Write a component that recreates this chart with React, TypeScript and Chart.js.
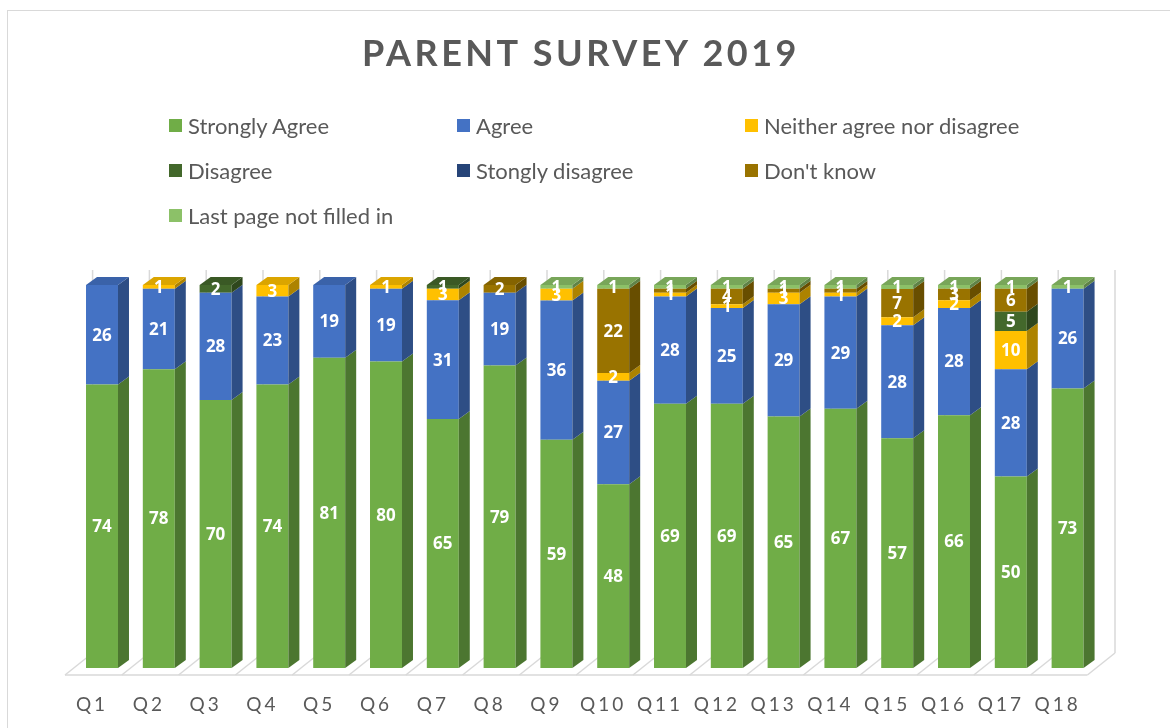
import React, { useEffect, useRef } from 'react';
import { Chart, registerables } from 'chart.js';

Chart.register(...registerables);

const categories = ['Q1', 'Q2', 'Q3', 'Q4', 'Q5', 'Q6', 'Q7', 'Q8', 'Q9', 'Q10', 'Q11', 'Q12', 'Q13', 'Q14', 'Q15', 'Q16', 'Q17', 'Q18'];
const stronglyAgree = [74, 78, 70, 74, 81, 80, 65, 79, 59, 48, 69, 69, 65, 67, 57, 66, 50, 73];
const agree = [26, 21, 28, 23, 19, 19, 31, 19, 36, 27, 28, 25, 29, 29, 28, 28, 28, 26];
const neither = [0, 1, 0, 3, 0, 1, 3, 0, 3, 2, 1, 1, 3, 1, 2, 2, 10, 0];
const disagree = [0, 0, 2, 0, 0, 0, 1, 0, 0, 0, 0, 0, 0, 0, 0, 0, 5, 0];
const stronglyDisagree = [0, 0, 0, 0, 0, 0, 0, 0, 0, 0, 0, 0, 0, 0, 0, 0, 0, 0];
const dontKnow = [0, 0, 0, 0, 0, 0, 0, 2, 0, 22, 1, 4, 1, 1, 7, 3, 6, 0];
const lastPage = [0, 0, 0, 0, 0, 0, 0, 0, 1, 1, 1, 1, 1, 1, 1, 1, 1, 1];

const seriesNames = ['Strongly Agree', 'Agree', 'Neither agree nor disagree', 'Disagree', 'Stongly disagree', "Don't know", 'Last page not filled in'];
const seriesValues = [stronglyAgree, agree, neither, disagree, stronglyDisagree, dontKnow, lastPage];
const seriesColors = ['#70AD47', '#4472C4', '#FFC000', '#43682B', '#264478', '#997300', '#8CC168'];

const TITLE = 'PARENT SURVEY 2019';
const TEXT_GREY = '#595959';
const LINE_GREY = '#D9D9D9';

function shade(hex: string, f: number): string {
  const n = parseInt(hex.slice(1), 16);
  const r = Math.round(((n >> 16) & 255) * f);
  const g = Math.round(((n >> 8) & 255) * f);
  const b = Math.round((n & 255) * f);
  return `rgb(${r},${g},${b})`;
}

const DX = 11;
const DY = 8;

const floorPlugin = {
  id: 'floor3d',
  beforeDatasetsDraw(chart: any) {
    const ctx = chart.ctx;
    const xs = chart.scales.x;
    const area = chart.chartArea;
    const n = categories.length;
    const cw = (area.right - area.left) / n;
    const bottom = area.bottom;
    const fy = bottom + 7;
    const by = bottom - 15;
    const wallTop = area.top - 15;
    const depthX = 27.6;
    ctx.save();
    ctx.letterSpacing = '0px';
    ctx.strokeStyle = LINE_GREY;
    ctx.lineWidth = 1.5;
    const front0 = xs.getPixelForValue(0) - 37;
    for (let k = 0; k <= n; k++) {
      const xf = front0 + k * cw;
      const xb = xf + depthX;
      ctx.beginPath();
      ctx.moveTo(xb, wallTop);
      ctx.lineTo(xb, by);
      ctx.stroke();
      ctx.beginPath();
      ctx.moveTo(xf, fy);
      ctx.lineTo(xb, by);
      ctx.stroke();
    }
    ctx.beginPath();
    ctx.moveTo(front0, fy);
    ctx.lineTo(front0 + n * cw, fy);
    ctx.stroke();
    ctx.restore();
  },
};

const bar3dPlugin = {
  id: 'bar3d',
  afterDatasetsDraw(chart: any) {
    const ctx = chart.ctx;
    const n = categories.length;
    ctx.save();
    ctx.letterSpacing = '0px';
    for (let i = 0; i < n; i++) {
      let topEl: any = null;
      let topColor = '';
      chart.data.datasets.forEach((ds: any, d: number) => {
        if (!ds.raw[i]) return;
        const el = chart.getDatasetMeta(d).data[i];
        const p = el.getProps(['x', 'y', 'base', 'width'], true);
        const right = p.x + p.width / 2;
        const top = Math.min(p.y, p.base);
        const bot = Math.max(p.y, p.base);
        ctx.fillStyle = shade(ds.backgroundColor, 0.68);
        ctx.beginPath();
        ctx.moveTo(right, bot);
        ctx.lineTo(right, top);
        ctx.lineTo(right + DX, top - DY);
        ctx.lineTo(right + DX, bot - DY);
        ctx.closePath();
        ctx.fill();
        topEl = p;
        topColor = ds.backgroundColor;
      });
      if (topEl) {
        const left = topEl.x - topEl.width / 2;
        const right = topEl.x + topEl.width / 2;
        const top = Math.min(topEl.y, topEl.base);
        ctx.fillStyle = shade(topColor, 0.86);
        ctx.beginPath();
        ctx.moveTo(left, top);
        ctx.lineTo(left + DX, top - DY);
        ctx.lineTo(right + DX, top - DY);
        ctx.lineTo(right, top);
        ctx.closePath();
        ctx.fill();
      }
    }
    ctx.fillStyle = '#FFFFFF';
    ctx.font = "bold 17px 'Open Sans'";
    ctx.textAlign = 'center';
    ctx.textBaseline = 'middle';
    chart.data.datasets.forEach((ds: any, d: number) => {
      chart.getDatasetMeta(d).data.forEach((el: any, i: number) => {
        const v = ds.raw[i];
        if (!v) return;
        const p = el.getProps(['x', 'y', 'base'], true);
        ctx.fillText(String(v), p.x, (p.y + p.base) / 2 + 1);
      });
    });
    ctx.restore();
  },
};

const spacingPlugin = {
  id: 'spacing',
  beforeDraw(chart: any) {
    chart.ctx.letterSpacing = '3px';
  },
};

export default function App() {
  const canvasRef = useRef<HTMLCanvasElement | null>(null);

  useEffect(() => {
    const canvas = canvasRef.current;
    if (!canvas) return;
    const totals = categories.map((_, i) => seriesValues.reduce((s, arr) => s + arr[i], 0));
    const chart = new Chart(canvas, {
      type: 'bar',
      data: {
        labels: categories,
        datasets: seriesNames.map((name, s) => ({
          label: name,
          data: seriesValues[s].map((v, i) => (v / totals[i]) * 100),
          raw: seriesValues[s],
          backgroundColor: seriesColors[s],
          borderWidth: 0,
          barPercentage: 0.563,
          categoryPercentage: 1,
          stack: 'survey',
        })) as any,
      },
      options: {
        responsive: false,
        animation: false,
        layout: { padding: { left: 73.6, right: 74, top: 285, bottom: 0 } },
        plugins: {
          legend: { display: false },
          title: { display: false },
          tooltip: { enabled: false },
        },
        scales: {
          x: {
            stacked: true,
            grid: { display: false },
            border: { display: false },
            ticks: {
              color: TEXT_GREY,
              font: { family: 'Lato', size: 19 },
              padding: 17,
              labelOffset: -10,
              maxRotation: 0,
              autoSkip: false,
            },
            afterFit: (scale: any) => {
              scale.height = 60;
            },
          },
          y: {
            stacked: true,
            display: false,
            min: 0,
            max: 100.0001,
          },
        },
      },
      plugins: [spacingPlugin, floorPlugin, bar3dPlugin],
    });
    return () => chart.destroy();
  }, []);

  const colLeft = [169, 457, 745];
  const rowMid = [125, 170, 215];

  return (
    <div style={{ position: 'fixed', left: 0, top: 0, width: 1170, height: 728, overflow: 'hidden', background: '#fff' }}>
      <div
        style={{
          position: 'absolute',
          left: 7,
          top: 10,
          width: 1200,
          height: 800,
          borderTop: `1.5px solid ${LINE_GREY}`,
          borderLeft: `1.5px solid ${LINE_GREY}`,
        }}
      />
      <canvas ref={canvasRef} width={1170} height={728} style={{ position: 'absolute', left: 0, top: 0, width: 1170, height: 728 }} />
      <div
        style={{
          position: 'absolute',
          left: -4,
          top: 29,
          width: 1170,
          textAlign: 'center',
          fontFamily: 'Lato',
          fontWeight: 700,
          fontSize: 36,
          letterSpacing: 3.5,
          color: TEXT_GREY,
          lineHeight: '46px',
        }}
      >
        {TITLE}
      </div>
      {seriesNames.map((name, i) => (
        <div
          key={name}
          style={{
            position: 'absolute',
            left: colLeft[i % 3],
            top: rowMid[Math.floor(i / 3)] - 15,
            height: 30,
            display: 'flex',
            alignItems: 'center',
            fontFamily: 'Lato',
            fontSize: 22,
            color: TEXT_GREY,
            whiteSpace: 'nowrap',
          }}
        >
          <span style={{ display: 'inline-block', width: 13, height: 13, background: seriesColors[i], marginRight: 6 }} />
          <span>{name}</span>
        </div>
      ))}
    </div>
  );
}
